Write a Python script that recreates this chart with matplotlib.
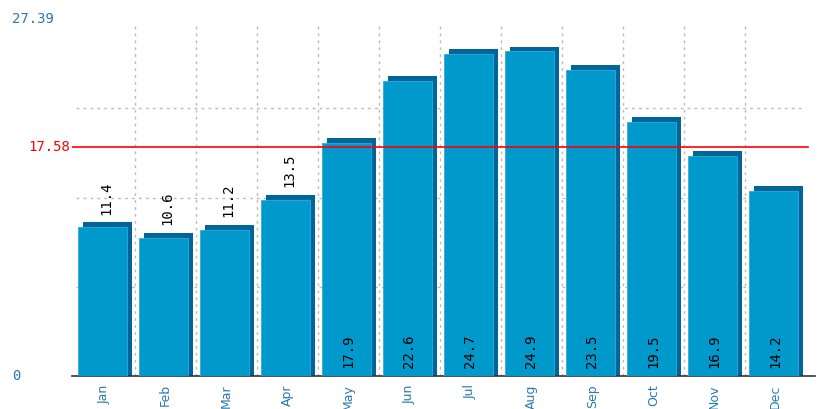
import numpy as np
import matplotlib.pyplot as plt
import matplotlib.transforms as mtransforms

months = ['Jan', 'Feb', 'Mar', 'Apr', 'May', 'Jun', 'Jul', 'Aug', 'Sep', 'Oct', 'Nov', 'Dec']
values = [11.4, 10.6, 11.2, 13.5, 17.9, 22.6, 24.7, 24.9, 23.5, 19.5, 16.9, 14.2]
y_top = 27.39

front_col = '#0099cc'
shade_col = '#006699'
label_blue = '#2a78b0'

mean_val = round(np.mean(values) + 1e-9, 2)

fig = plt.figure(figsize=(8.17, 4.09), dpi=100)
ax = fig.add_axes([72/817, 33/409, 743/817, 357/409])
ax.set_xlim(-0.533, 11.648)
ax.set_ylim(0, y_top)

x = np.arange(len(values))

# grid: quarters of the y range and bar boundaries
for k in range(1, 4):
    ax.axhline(y_top * k / 4, xmin=0.005, xmax=0.985, color='#bbbbbb', ls=(0, (2, 3)), lw=1, zorder=0)
for b in x[:-1] + 0.5:
    ax.axvline(b, ymin=0, ymax=0.99, color='#bbbbbb', ls=(0, (2, 3)), lw=1, zorder=0)

# shadow + front face
dy = 0.38
ax.bar(x + 0.05, np.array(values) + dy, width=0.8, color=shade_col, zorder=2)
ax.bar(x - 0.03, values, width=0.8, color=front_col, edgecolor='#33aadd', lw=0.6, zorder=3)

# mean line
ax.axhline(mean_val, xmin=0, xmax=0.99, color='#ff0000', lw=1.2, zorder=4)

for i, v in enumerate(values):
    if v > 14:
        ax.text(i, 0.6, f'{v:.1f}', rotation=90, ha='center', va='bottom',
                fontsize=10, family='DejaVu Sans Mono', color='black', zorder=5)
    else:
        ax.text(i + 0.025, v + dy + 0.6, f'{v:.1f}', rotation=90, ha='center', va='bottom',
                fontsize=10, family='DejaVu Sans Mono', color='black', zorder=5)

ax.set_xticks(x)
ax.set_xticklabels(months, rotation=90, color=label_blue, fontsize=9, family='DejaVu Sans')
ax.tick_params(axis='x', length=0, pad=6)
ax.set_yticks([])

for s in ['top', 'left', 'right']:
    ax.spines[s].set_visible(False)
ax.spines['bottom'].set_color('#333333')
ax.spines['bottom'].set_linewidth(1.2)

trans = mtransforms.blended_transform_factory(fig.transFigure, ax.transData)
fig.text(12/817, y_top, f'{y_top:.2f}', transform=trans, color=label_blue, fontsize=10,
         family='DejaVu Sans Mono', va='center', ha='left')
fig.text(12/817, 0, '0', transform=trans, color=label_blue, fontsize=10,
         family='DejaVu Sans Mono', va='center', ha='left')
fig.text(70/817, mean_val, f'{mean_val:.2f}', transform=trans, color='#ff0000', fontsize=10,
         family='DejaVu Sans Mono', va='center', ha='right')

fig.savefig('out.png', dpi=100)
